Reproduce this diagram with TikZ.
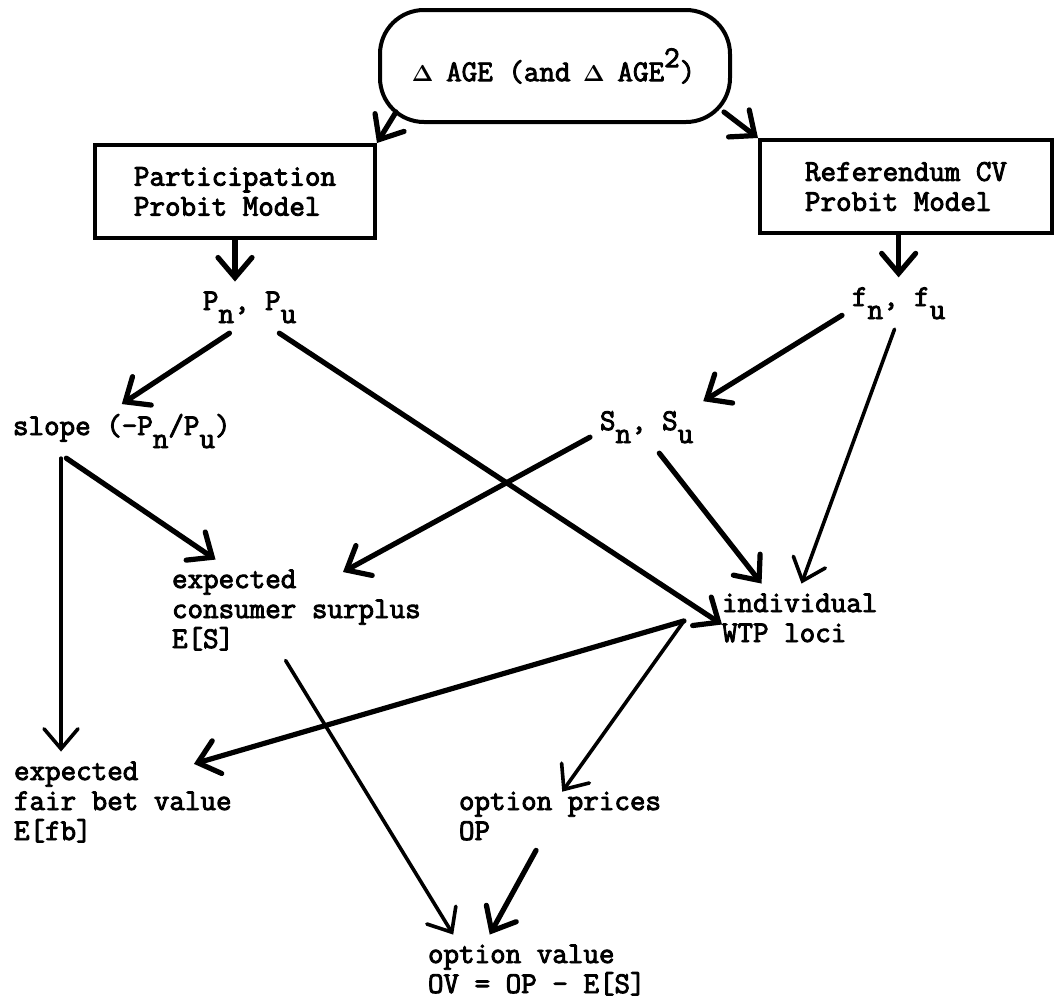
\documentclass[tikz,border=0pt]{standalone}
\usepackage[no-math]{fontspec}
\usepackage{graphicx}
\newfontfamily\typew[FakeBold=3]{Latin Modern Mono}
\usetikzlibrary{arrows.meta,calc}
\newcommand\dn[1]{\raisebox{-6.5pt}{#1}}
\newcommand\upr[1]{\raisebox{7pt}{#1}}
\newcommand\dlt{\makebox[0.525em]{\scalebox{0.8}{$\mathbf{\Delta}$}}}

\begin{document}
\begin{tikzpicture}[x=0.5pt, y=-0.5pt,
    tw/.style={font=\typew\fontsize{15.09}{15}\selectfont},
    txt/.style={tw, inner sep=0pt, outer sep=5pt, align=left, anchor=base west},
    boxnode/.style={tw, draw, line width=2pt, minimum height=46.5pt, align=left},
    arr/.style={-{Straight Barb[length=10pt,width=17pt,line cap=round]}, line width=2.6pt, line cap=round},
    thinarr/.style={arr, line width=1.8pt}]
    \useasboundingbox (0,0) rectangle (1055,1007);

    % 1. oval and the two probit models
    \node[tw, draw, line width=2pt, rounded corners=22pt, minimum width=175pt, minimum height=56pt] (age) at (555,66) {\dlt{} AGE (and \dlt{} AGE\upr{2})};
    \node[boxnode, minimum width=140pt] (pp) at (235,191.5) {Participation\\Probit Model};
    \node[boxnode, minimum width=146pt] (rr) at (906,186.5) {Referendum CV\\Probit Model};

    % 2. texts (base = last line)
    \node[txt] (pn) at (193,310) {P\dn{n}, P\dn{u}};
    \node[txt] (fn) at (842,306) {f\dn{n}, f\dn{u}};
    \node[txt] (slope) at (3,435) {slope (-P\dn{n}/P\dn{u})};
    \node[txt] (sn) at (590,430) {S\dn{n}, S\dn{u}};
    \node[txt] (es) at (162,648) {expected\\consumer surplus\\E[S]};
    \node[txt] (wtp) at (712,642) {individual\\WTP loci};
    \node[txt] (fb) at (4,840) {expected\\fair bet value\\E[fb]};
    \node[txt] (op) at (449,840) {option prices\\OP};
    \node[txt] (ov) at (418,993) {option value\\OV = OP - E[S]};
    \coordinate (hub) at ($(wtp.west)+(-28,3)$);

    % 3. arrows
    \draw[arr] ($(age.south west)+(18,-12)$) -- (pp.north east);
    \draw[arr] ($(age.south east)+(-8,-12)$) -- (rr.north west);
    \draw[arr] (pp.south) -- (pp.south |- pn.north);
    \draw[arr] (fn.north |- rr.south) -- (fn.north);
    \draw[arr] (pn.232) -- (slope.north);
    \draw[arr, shorten >=-6pt] (pn.-41) -- (wtp.west);
    \draw[arr] (fn.192) -- (sn.north east);
    \draw[thinarr] (fn.261) -- (wtp.87);
    \draw[thinarr] (slope.204) -- (slope.204 |- fb.north);
    \draw[arr] (slope.206) -- (es.148);
    \draw[arr, shorten >=-13pt] (sn.190) -- (es.36);
    \draw[arr] (sn.-64) -- (wtp.138);
    \draw[arr, shorten >=-22pt] (hub) -- (fb.24);
    \draw[thinarr, shorten >=-6pt] (hub) -- (op.75);
    \draw[thinarr] (es.258) -- (ov.157);
    \draw[arr] (op.235) -- (ov.143);
\end{tikzpicture}
\end{document}
